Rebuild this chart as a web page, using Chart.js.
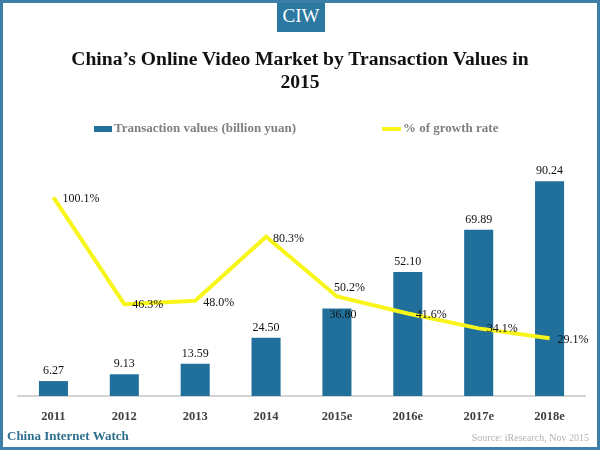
<!DOCTYPE html>
<html>
<head>
<meta charset="utf-8">
<script src="https://cdn.jsdelivr.net/npm/chart.js@4"></script>
<style>
  html, body { margin: 0; padding: 0; background: #fff; }
  #frame {
    position: relative; width: 600px; height: 450px; box-sizing: border-box;
    border: 3px solid #3d7fa6; overflow: hidden;
    font-family: "Liberation Serif", "Times New Roman", serif;
  }
  #badge {
    position: absolute; left: 274px; top: -3px; width: 48px; height: 32px;
    background: #2b78a1; color: #fff; font-size: 19px; line-height: 32px; text-align: center;
  }
  #title {
    position: absolute; left: 0; right: 0; top: 44px; text-align: center;
    font-weight: bold; font-size: 19.6px; line-height: 23px; color: #111;
  }
  .leg { position: absolute; top: 117px; font-weight: bold; font-size: 13px; color: #7f7f7f; white-space: nowrap; }
  .leg i { display: inline-block; vertical-align: middle; margin-right: 2px; }
  #foot1 { position: absolute; left: 4px; top: 425px; font-weight: bold; font-size: 13px; color: #2f6e8c; }
  #foot2 { position: absolute; right: 8px; top: 429px; font-size: 10px; color: #b4b4b4; }
  #wrap { position: absolute; left: -3px; top: -3px; width: 600px; height: 450px; }
</style>
</head>
<body>
<div id="frame">
  <div id="wrap"><canvas id="chart" width="600" height="450"></canvas></div>
  <div id="badge">CIW</div>
  <div id="title">China’s Online Video Market by Transaction Values in<br>2015</div>
  <div class="leg" style="left:91px"><i style="width:18px;height:6px;background:#20709b"></i>Transaction values (billion yuan)</div>
  <div class="leg" style="left:379px"><i style="width:19px;height:4px;background:#f7f51a"></i>% of growth rate</div>
  <div id="foot1">China Internet Watch</div>
  <div id="foot2">Source: iResearch, Nov 2015</div>
</div>
<script>
const years = ['2011', '2012', '2013', '2014', '2015e', '2016e', '2017e', '2018e'];
const transactionValues = [6.27, 9.13, 13.59, 24.50, 36.80, 52.10, 69.89, 90.24];
const growthRates = [100.1, 46.3, 48.0, 80.3, 50.2, 41.6, 34.1, 29.1];

// label offsets (px) relative to each mark
const barLabelOffset = [[0, -10], [0, -10], [0, -10], [0, -10], [6, 6], [0, -10], [0, -10], [0, -10]];
const lineLabelOffset = [[9, 1], [8, 1], [8, 2], [7, 2], [-3, -9], [8, 1], [8, 0], [8, 2]];

const labelPlugin = {
  id: 'valueLabels',
  afterDatasetsDraw(chart) {
    const ctx = chart.ctx;
    ctx.save();
    ctx.font = '12px "Liberation Serif", serif';
    ctx.fillStyle = '#111';
    ctx.textBaseline = 'middle';
    const bars = chart.getDatasetMeta(0).data;
    ctx.textAlign = 'center';
    bars.forEach((el, i) => {
      ctx.fillText(transactionValues[i].toFixed(2), el.x + barLabelOffset[i][0], el.y + barLabelOffset[i][1]);
    });
    const pts = chart.getDatasetMeta(1).data;
    ctx.textAlign = 'left';
    pts.forEach((el, i) => {
      ctx.fillText(growthRates[i].toFixed(1) + '%', el.x + lineLabelOffset[i][0], el.y + lineLabelOffset[i][1]);
    });
    ctx.restore();
  }
};

new Chart(document.getElementById('chart'), {
  data: {
    labels: years,
    datasets: [{
      type: 'bar',
      label: 'Transaction values (billion yuan)',
      data: transactionValues,
      backgroundColor: '#20709b',
      yAxisID: 'y',
      order: 1,
      categoryPercentage: 1,
      barPercentage: 0.41
    }, {
      type: 'line',
      label: '% of growth rate',
      data: growthRates,
      borderColor: '#f7f51a',
      borderWidth: 4,
      pointRadius: 0,
      tension: 0,
      yAxisID: 'y2',
      order: 0
    }]
  },
  options: {
    responsive: false,
    animation: false,
    layout: { padding: { left: 18, right: 15, top: 158, bottom: 21 } },
    plugins: { legend: { display: false }, tooltip: { enabled: false } },
    scales: {
      x: {
        grid: { display: false },
        border: { display: true, color: '#d4d4d4', width: 2 },
        ticks: {
          color: '#404040', padding: 5,
          font: { family: '"Liberation Serif", serif', size: 12.5, weight: 'bold' }
        }
      },
      y: { display: false, min: 0, max: 100 },
      y2: { display: false, min: 0, max: 120 }
    }
  },
  plugins: [labelPlugin]
});
</script>
</body>
</html>
